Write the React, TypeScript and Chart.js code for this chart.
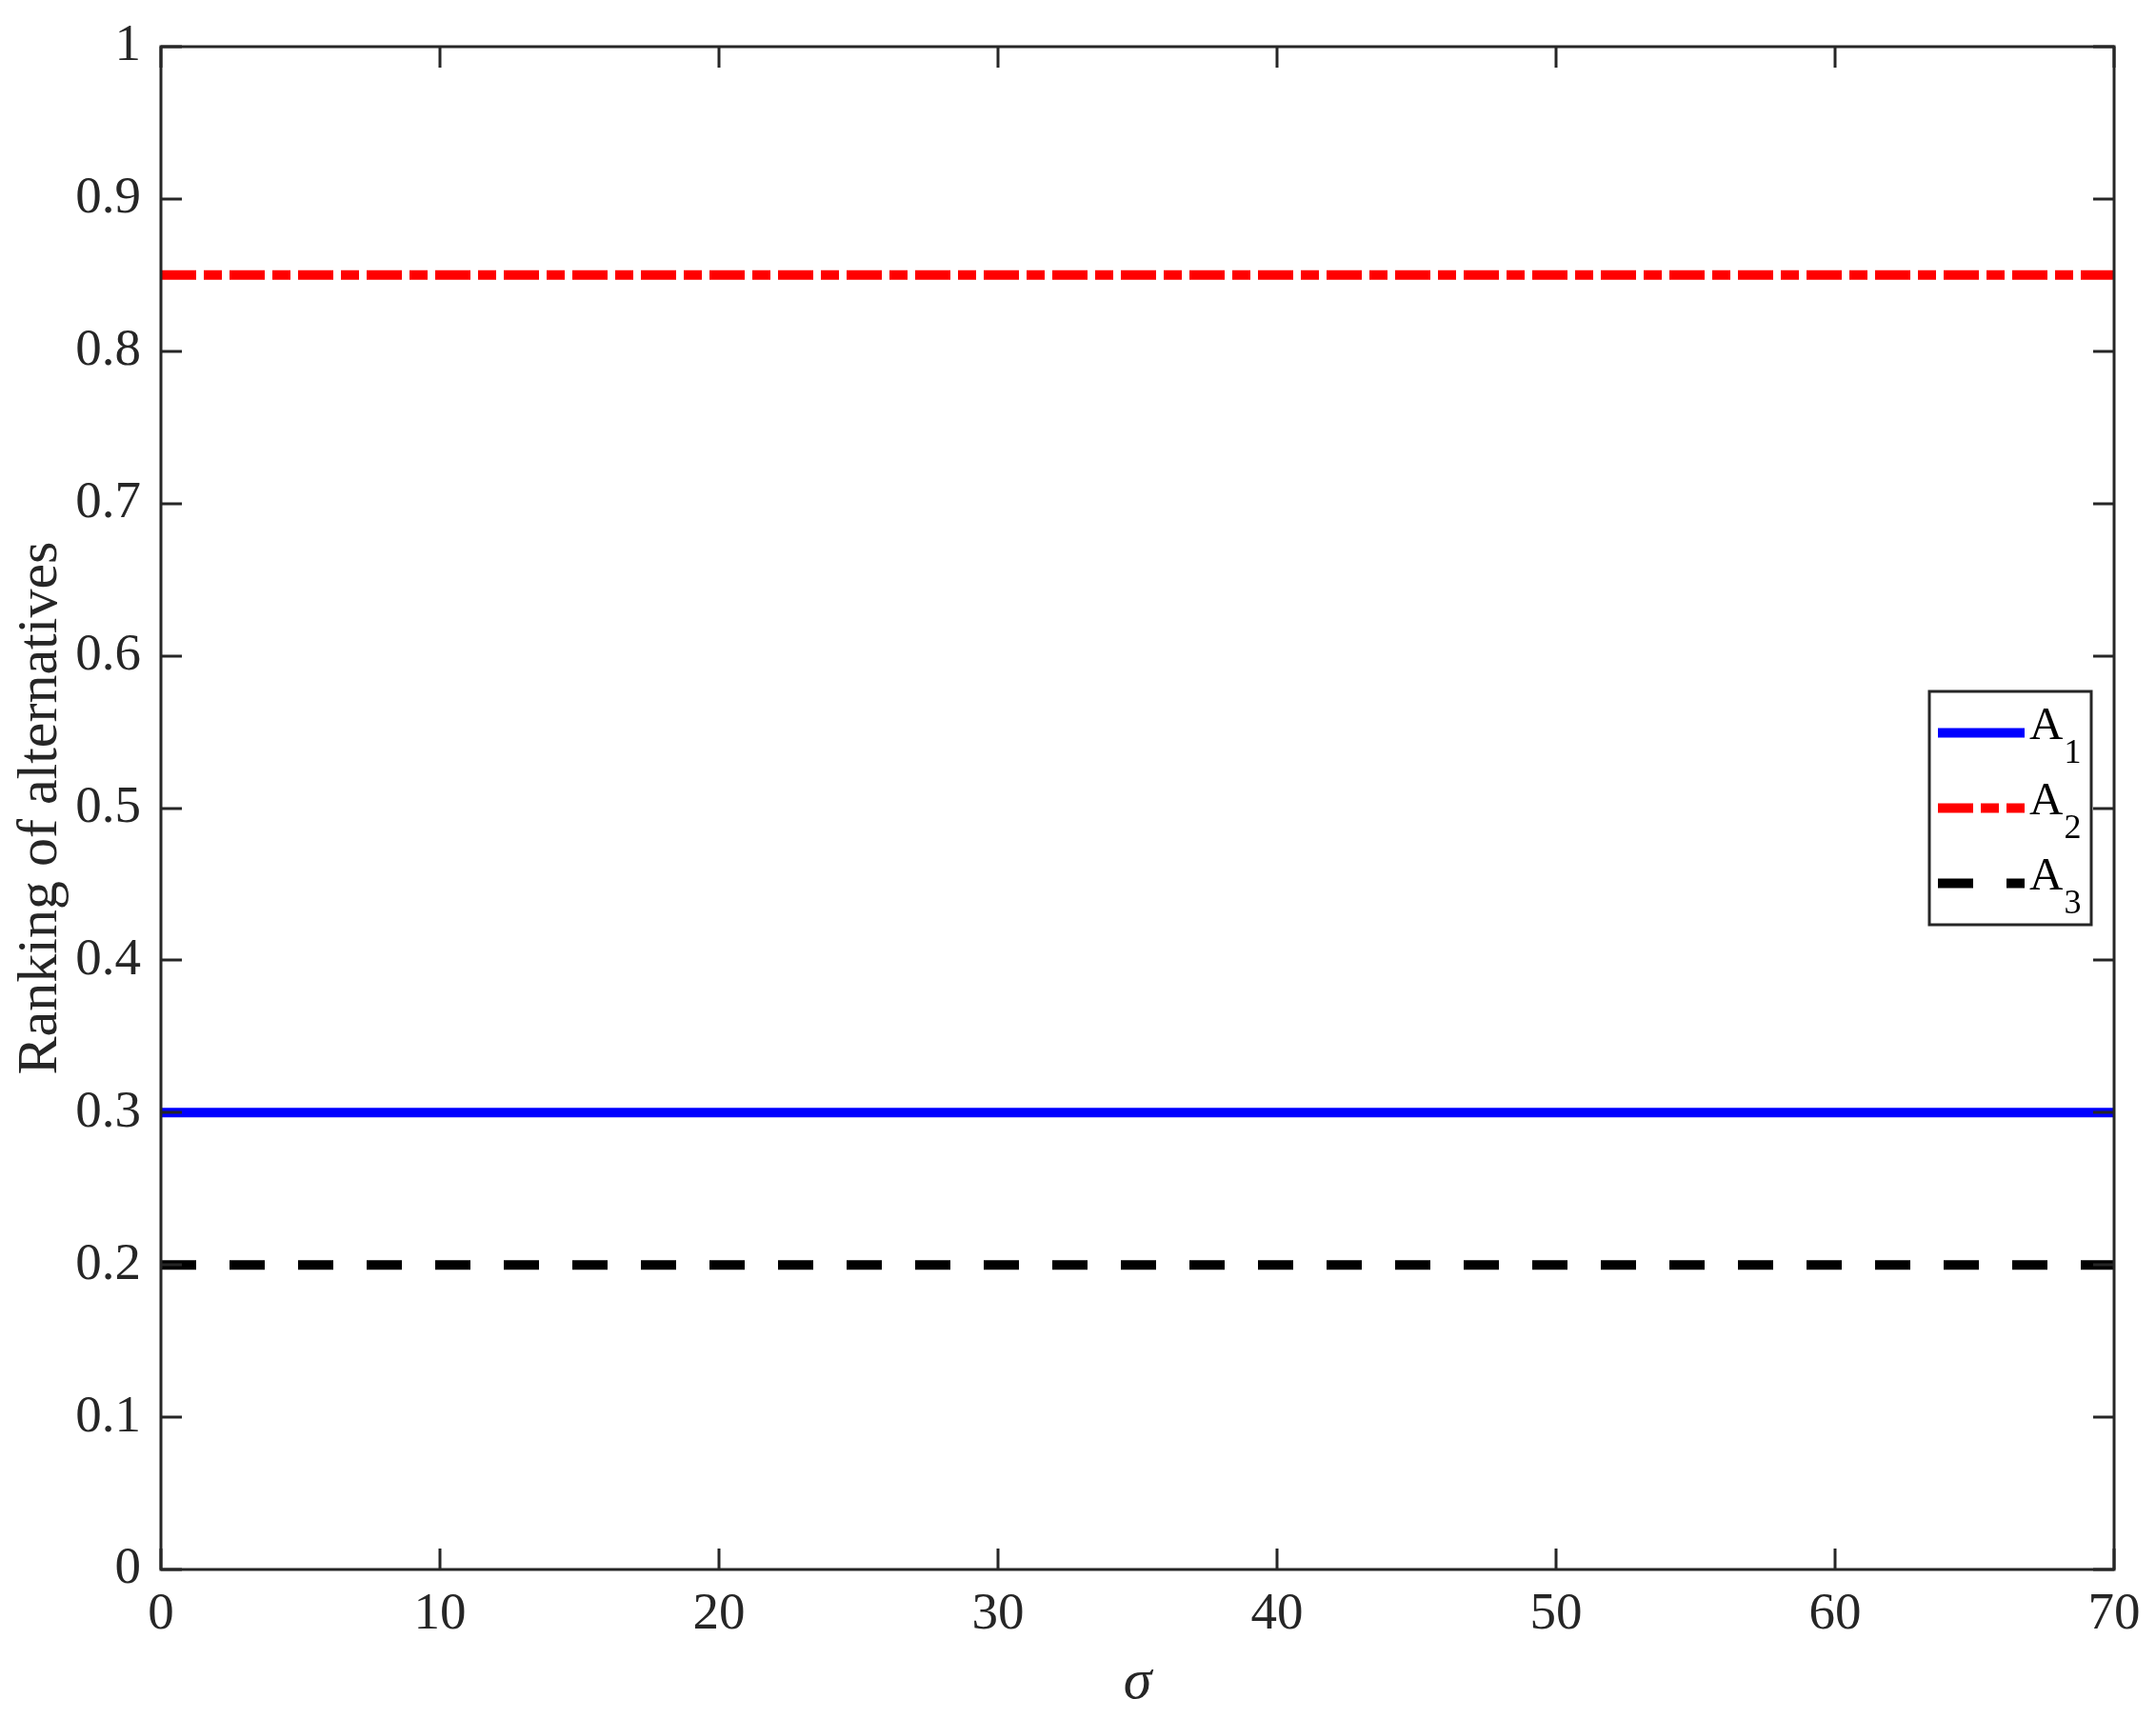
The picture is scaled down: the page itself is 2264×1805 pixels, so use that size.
import React, { useEffect, useRef } from 'react';
import { Chart, registerables } from 'chart.js';

Chart.register(...registerables);

// ---- data ----
const sigmaValues = [0, 10, 20, 30, 40, 50, 60, 70];
const seriesA1 = [0.3, 0.3, 0.3, 0.3, 0.3, 0.3, 0.3, 0.3];
const seriesA2 = [0.85, 0.85, 0.85, 0.85, 0.85, 0.85, 0.85, 0.85];
const seriesA3 = [0.2, 0.2, 0.2, 0.2, 0.2, 0.2, 0.2, 0.2];
const seriesBase = ['A', 'A', 'A'];
const seriesSub = ['1', '2', '3'];
const xTickValues = [0, 10, 20, 30, 40, 50, 60, 70];
const yTickValues = [0, 0.1, 0.2, 0.3, 0.4, 0.5, 0.6, 0.7, 0.8, 0.9, 1];
const xTitle = 'σ';
const yTitle = 'Ranking of alternatives';

const SERIF = "'Liberation Serif', 'Times New Roman', serif";
const AXIS_COLOR = '#262626';

const boxTicksPlugin = {
  id: 'boxTicks',
  afterDraw(chart: any) {
    const { ctx, chartArea, scales } = chart;
    const { left, right, top, bottom } = chartArea;
    const x = scales.x;
    const y = scales.y;
    const tl = 22;
    ctx.save();
    ctx.strokeStyle = AXIS_COLOR;
    ctx.lineWidth = 3;
    ctx.lineCap = 'butt';
    ctx.beginPath();
    for (const v of xTickValues) {
      const px = Math.round(x.getPixelForValue(v));
      ctx.moveTo(px, bottom);
      ctx.lineTo(px, bottom - tl);
      ctx.moveTo(px, top);
      ctx.lineTo(px, top + tl);
    }
    for (const v of yTickValues) {
      const py = Math.round(y.getPixelForValue(v));
      ctx.moveTo(left, py);
      ctx.lineTo(left + tl, py);
      ctx.moveTo(right, py);
      ctx.lineTo(right - tl, py);
    }
    ctx.stroke();
    ctx.strokeRect(left, top, right - left, bottom - top);
    ctx.restore();
  },
};

const legendPlugin = {
  id: 'matlabLegend',
  afterDraw(chart: any) {
    const { ctx, chartArea } = chart;
    const { right, top, bottom } = chartArea;
    const boxW = 170;
    const boxH = 245;
    const boxRight = right - 24;
    const boxLeft = boxRight - boxW;
    const cy = (top + bottom) / 2;
    const boxTop = cy - boxH / 2;
    ctx.save();
    ctx.fillStyle = '#ffffff';
    ctx.fillRect(boxLeft, boxTop, boxW, boxH);
    ctx.strokeStyle = AXIS_COLOR;
    ctx.lineWidth = 3;
    ctx.strokeRect(boxLeft, boxTop, boxW, boxH);
    const rowGap = 79;
    chart.data.datasets.forEach((ds: any, i: number) => {
      const ly = cy + (i - 1) * rowGap;
      ctx.save();
      ctx.strokeStyle = ds.borderColor;
      ctx.lineWidth = ds.borderWidth;
      ctx.lineCap = 'butt';
      ctx.setLineDash(ds.borderDash || []);
      ctx.beginPath();
      ctx.moveTo(boxLeft + 9, ly);
      ctx.lineTo(boxLeft + 100, ly);
      ctx.stroke();
      ctx.restore();
      ctx.fillStyle = '#000000';
      ctx.textAlign = 'left';
      ctx.textBaseline = 'alphabetic';
      ctx.font = `49px ${SERIF}`;
      const tx = boxLeft + 105;
      ctx.fillText(seriesBase[i], tx, ly + 6);
      const w = ctx.measureText(seriesBase[i]).width;
      ctx.font = `36px ${SERIF}`;
      ctx.fillText(seriesSub[i], tx + w + 1, ly + 31);
    });
    ctx.restore();
  },
};

export default function App() {
  const canvasRef = useRef<HTMLCanvasElement | null>(null);

  useEffect(() => {
    if (!canvasRef.current) return;
    const chart = new Chart(canvasRef.current, {
      type: 'line',
      data: {
        datasets: [
          {
            label: 'A1',
            data: sigmaValues.map((s, i) => ({ x: s, y: seriesA1[i] })),
            borderColor: '#0000ff',
            borderWidth: 10,
            borderCapStyle: 'butt',
            pointRadius: 0,
            fill: false,
          },
          {
            label: 'A2',
            data: sigmaValues.map((s, i) => ({ x: s, y: seriesA2[i] })),
            borderColor: '#ff0000',
            borderWidth: 10,
            borderDash: [37, 8, 19, 8],
            borderCapStyle: 'butt',
            pointRadius: 0,
            fill: false,
          },
          {
            label: 'A3',
            data: sigmaValues.map((s, i) => ({ x: s, y: seriesA3[i] })),
            borderColor: '#000000',
            borderWidth: 10,
            borderDash: [37, 35],
            borderCapStyle: 'butt',
            pointRadius: 0,
            fill: false,
          },
        ],
      },
      options: {
        responsive: false,
        devicePixelRatio: 1,
        animation: false,
        layout: { padding: { top: 49, right: 44, left: 0, bottom: 0 } },
        plugins: {
          legend: { display: false },
          tooltip: { enabled: false },
        },
        scales: {
          x: {
            type: 'linear',
            min: 0,
            max: 70,
            grid: { display: false, drawTicks: false, tickLength: 0 },
            border: { display: false },
            ticks: {
              stepSize: 10,
              padding: 15,
              color: AXIS_COLOR,
              font: { family: SERIF, size: 55 },
              maxRotation: 0,
              autoSkip: false,
            },
            title: {
              display: true,
              text: xTitle,
              color: AXIS_COLOR,
              font: { family: SERIF, size: 60, style: 'italic' },
              padding: { top: 0, bottom: 2 },
            },
            afterFit(scale: any) {
              scale.height = 157;
              scale.paddingLeft = 0;
              scale.paddingRight = 0;
            },
          },
          y: {
            type: 'linear',
            min: 0,
            max: 1,
            grid: { display: false, drawTicks: false, tickLength: 0 },
            border: { display: false },
            ticks: {
              stepSize: 0.1,
              padding: 21,
              color: AXIS_COLOR,
              font: { family: SERIF, size: 55 },
              autoSkip: false,
              callback: (v: any) => {
                const n = Number(v);
                if (Math.abs(n) < 1e-9) return '0';
                if (Math.abs(n - 1) < 1e-9) return '1';
                return n.toFixed(1);
              },
            },
            title: {
              display: true,
              text: yTitle,
              color: AXIS_COLOR,
              font: { family: SERIF, size: 60 },
              padding: { top: 7, bottom: 0 },
            },
            afterFit(scale: any) {
              scale.width = 169;
              scale.paddingTop = 0;
              scale.paddingBottom = 0;
            },
          },
        },
      },
      plugins: [boxTicksPlugin, legendPlugin],
    } as any);
    return () => chart.destroy();
  }, []);

  return (
    <div style={{ position: 'absolute', left: 0, top: 0, width: 2264, height: 1805, background: '#ffffff' }}>
      <canvas ref={canvasRef} width={2264} height={1805} style={{ display: 'block' }} />
    </div>
  );
}
